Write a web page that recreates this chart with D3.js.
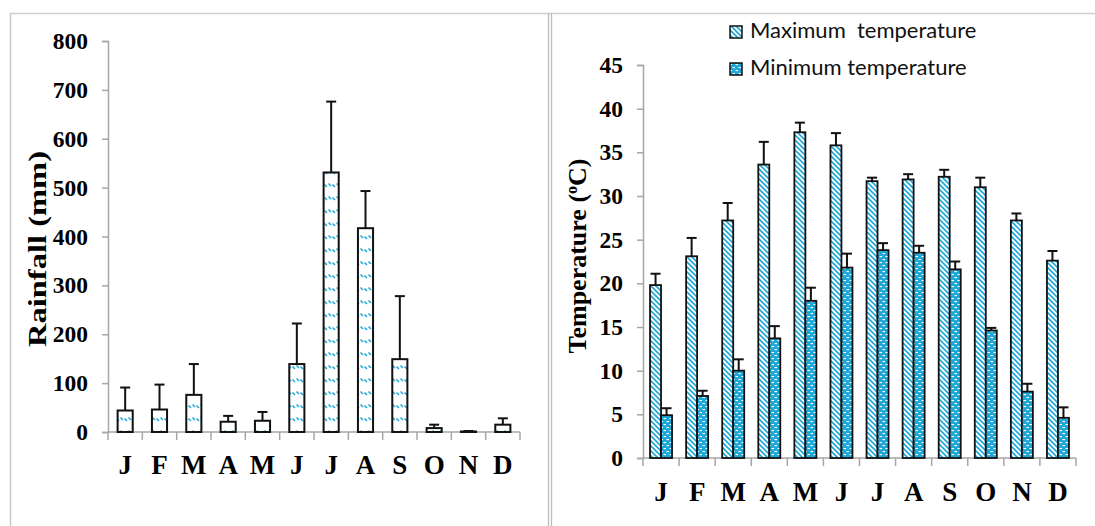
<!DOCTYPE html>
<html>
<head>
<meta charset="utf-8">
<script src="https://cdn.jsdelivr.net/npm/d3@7"></script>
<style>
  body { margin: 0; background: #fff; }
  svg { display: block; }
</style>
</head>
<body>
<svg id="chart" width="1095" height="526"></svg>
<script>
// data
const months = ['J', 'F', 'M', 'A', 'M', 'J', 'J', 'A', 'S', 'O', 'N', 'D'];
const rainfall = [44, 46, 76, 21, 23, 139, 531, 417, 149, 8, 1, 15];
const rainfallErr = [91, 97, 139, 33, 41, 222, 676, 493, 278, 15, 2, 28];
const rainTicks = [0, 100, 200, 300, 400, 500, 600, 700, 800];

const tMax = [19.8, 23.1, 27.2, 33.6, 37.3, 35.8, 31.7, 31.9, 32.2, 31.0, 27.2, 22.6];
const tMaxErr = [21.1, 25.2, 29.2, 36.2, 38.4, 37.2, 32.1, 32.5, 33.0, 32.1, 28.0, 23.7];
const tMin = [4.9, 7.1, 10.0, 13.7, 18.0, 21.8, 23.8, 23.5, 21.6, 14.6, 7.6, 4.6];
const tMinErr = [5.7, 7.7, 11.3, 15.1, 19.5, 23.4, 24.6, 24.3, 22.5, 14.9, 8.5, 5.8];
const tempTicks = [0, 5, 10, 15, 20, 25, 30, 35, 40, 45];
const seriesNames = ['Maximum  temperature', 'Minimum temperature'];

const cyan = '#1ea8d8';
const axisGrey = '#a6a6a6';
const serif = '"Liberation Serif", "Times New Roman", serif';

const svg = d3.select('#chart');
const defs = svg.append('defs');

// hatch fills
const rainPat = defs.append('pattern').attr('id', 'rainPat')
  .attr('patternUnits', 'userSpaceOnUse').attr('width', 8).attr('height', 13);
rainPat.append('rect').attr('width', 8).attr('height', 13).attr('fill', '#fff');
rainPat.append('path').attr('d', 'M0.5,1.5 L3,4 M4.5,2.5 L7,5')
  .attr('stroke', cyan).attr('stroke-width', 1.5);

const maxPat = defs.append('pattern').attr('id', 'maxPat')
  .attr('patternUnits', 'userSpaceOnUse').attr('width', 5).attr('height', 5);
maxPat.append('rect').attr('width', 5).attr('height', 5).attr('fill', '#fff');
maxPat.append('path').attr('d', 'M0,0 L5,5 M-1,4 L1,6 M4,-1 L6,1')
  .attr('stroke', cyan).attr('stroke-width', 1.6);

const minPat = defs.append('pattern').attr('id', 'minPat')
  .attr('patternUnits', 'userSpaceOnUse').attr('width', 6).attr('height', 6);
minPat.append('rect').attr('width', 6).attr('height', 6).attr('fill', cyan);
minPat.append('rect').attr('x', 0.5).attr('y', 1).attr('width', 2.5).attr('height', 1.1).attr('fill', '#fff');
minPat.append('rect').attr('x', 3.5).attr('y', 4).attr('width', 2.5).attr('height', 1.1).attr('fill', '#fff');

// frame lines of the figure panels
svg.append('line').attr('x1', 10).attr('x2', 1095).attr('y1', 13.5).attr('y2', 13.5)
  .attr('stroke', '#cfcfcf').attr('stroke-width', 1.5);
svg.append('line').attr('x1', 10.5).attr('x2', 10.5).attr('y1', 13).attr('y2', 526)
  .attr('stroke', '#c8c8c8').attr('stroke-width', 1.5);
[548.5, 551.5].forEach(x => {
  svg.append('line').attr('x1', x).attr('x2', x).attr('y1', 13).attr('y2', 526)
    .attr('stroke', '#bdbdbd').attr('stroke-width', 1.3);
});

function styleAxis(g) {
  g.selectAll('path, line').attr('stroke', axisGrey).attr('stroke-width', 1.5);
  g.selectAll('text').attr('fill', '#000').attr('font-size', 23.5).attr('font-family', serif)
    .attr('font-weight', 'bold');
}

function monthAxis(x, y0, labelY) {
  const step = x.step();
  const r = x.range();
  const g = svg.append('g');
  g.append('line').attr('x1', r[0]).attr('x2', r[1]).attr('y1', y0).attr('y2', y0)
    .attr('stroke', axisGrey).attr('stroke-width', 1.5);
  g.selectAll('.mtick').data(d3.range(months.length + 1)).enter().append('line')
    .attr('x1', i => r[0] + i * step).attr('x2', i => r[0] + i * step)
    .attr('y1', y0).attr('y2', y0 + 8)
    .attr('stroke', axisGrey).attr('stroke-width', 1.5);
  g.selectAll('.mlab').data(months).enter().append('text')
    .attr('x', (d, i) => r[0] + (i + 0.5) * step)
    .attr('y', labelY)
    .attr('text-anchor', 'middle')
    .attr('font-family', serif).attr('font-weight', 'bold').attr('font-size', 27)
    .text(d => d);
}

function errorBars(xs, tops, errs, y) {
  const g = svg.append('g');
  xs.forEach((cx, i) => {
    g.append('line').attr('x1', cx).attr('x2', cx).attr('y1', y(tops[i])).attr('y2', y(errs[i]))
      .attr('stroke', '#111').attr('stroke-width', 2);
    g.append('line').attr('x1', cx - 5).attr('x2', cx + 5).attr('y1', y(errs[i])).attr('y2', y(errs[i]))
      .attr('stroke', '#111').attr('stroke-width', 2);
  });
}

// ---- rainfall panel
const xR = d3.scaleBand().domain(d3.range(12)).range([108, 520]).paddingInner(0.56).paddingOuter(0.28);
const yR = d3.scaleLinear().domain([0, 800]).range([432, 41]);

svg.append('g').attr('transform', 'translate(108,0)')
  .call(d3.axisLeft(yR).tickValues(rainTicks).tickSize(6).tickPadding(14))
  .call(styleAxis);
monthAxis(xR, 432, 474);

svg.append('g').selectAll('rect').data(rainfall).enter().append('rect')
  .attr('x', (d, i) => xR(i)).attr('width', xR.bandwidth())
  .attr('y', d => yR(d)).attr('height', d => yR(0) - yR(d))
  .attr('fill', 'url(#rainPat)').attr('stroke', '#111').attr('stroke-width', 2);
errorBars(rainfall.map((d, i) => xR(i) + xR.bandwidth() / 2), rainfall, rainfallErr, yR);

svg.append('text')
  .attr('transform', 'translate(46,249) rotate(-90)')
  .attr('text-anchor', 'middle')
  .attr('font-family', serif).attr('font-weight', 'bold').attr('font-size', 25)
  .attr('textLength', 196).attr('lengthAdjust', 'spacingAndGlyphs')
  .text('Rainfall (mm)');

// ---- temperature panel
const xT = d3.scaleBand().domain(d3.range(12)).range([643, 1076]).paddingInner(0.39).paddingOuter(0.195);
const xSub = d3.scaleBand().domain([0, 1]).range([0, xT.bandwidth()]);
const yT = d3.scaleLinear().domain([0, 45]).range([458, 65]);

svg.append('g').attr('transform', 'translate(643,0)')
  .call(d3.axisLeft(yT).tickValues(tempTicks).tickSize(6).tickPadding(14))
  .call(styleAxis);
monthAxis(xT, 458, 501);

const tSeries = [
  { vals: tMax, errs: tMaxErr, fill: 'url(#maxPat)' },
  { vals: tMin, errs: tMinErr, fill: 'url(#minPat)' }
];
tSeries.forEach((s, k) => {
  svg.append('g').selectAll('rect').data(s.vals).enter().append('rect')
    .attr('x', (d, i) => xT(i) + xSub(k)).attr('width', xSub.bandwidth())
    .attr('y', d => yT(d)).attr('height', d => yT(0) - yT(d))
    .attr('fill', s.fill).attr('stroke', '#111').attr('stroke-width', 1.8);
  errorBars(s.vals.map((d, i) => xT(i) + xSub(k) + xSub.bandwidth() / 2), s.vals, s.errs, yT);
});

const tTitle = svg.append('text')
  .attr('transform', 'translate(586,256) rotate(-90)')
  .attr('text-anchor', 'middle')
  .attr('font-family', serif).attr('font-weight', 'bold').attr('font-size', 26);
tTitle.append('tspan').text('Temperature (');
tTitle.append('tspan').attr('font-size', 16).attr('dy', -9).text('o');
tTitle.append('tspan').attr('dy', 9).text('C)');

// legend
const legend = svg.append('g');
seriesNames.forEach((name, k) => {
  const ly = [26, 63][k];
  legend.append('rect').attr('x', 730).attr('y', ly).attr('width', 12).attr('height', 12)
    .attr('fill', tSeries[k].fill).attr('stroke', '#111').attr('stroke-width', 1.5);
  legend.append('text').attr('x', 750).attr('y', ly + 11.5)
    .attr('font-family', 'Lato, "Open Sans", sans-serif').attr('font-size', 22).attr('fill', '#111')
    .attr('xml:space', 'preserve').style('white-space', 'pre')
    .text(name);
});
</script>
</body>
</html>
